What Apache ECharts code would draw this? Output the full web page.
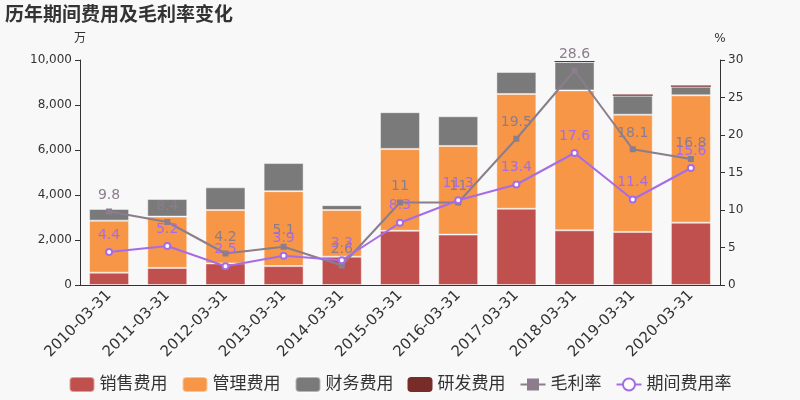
<!DOCTYPE html>
<html><head><meta charset="utf-8">
<script src="https://cdn.jsdelivr.net/npm/echarts@6/dist/echarts.min.js"></script>
<style>html,body{margin:0;padding:0;background:#f8f8f8}#c{width:800px;height:400px}</style>
</head><body><div id="c"></div>
<script>
const categories = ['2010-03-31','2011-03-31','2012-03-31','2013-03-31','2014-03-31','2015-03-31','2016-03-31','2017-03-31','2018-03-31','2019-03-31','2020-03-31'];
const sales = [550, 760, 960, 840, 1260, 2410, 2240, 3390, 2430, 2360, 2770];
const admin = [2310, 2280, 2370, 3330, 2070, 3640, 3940, 5100, 6220, 5210, 5660];
const finance = [520, 780, 1010, 1250, 220, 1630, 1320, 980, 1260, 845, 385];
const rnd = [0, 0, 0, 0, 0, 0, 0, 0, 50, 50, 50];
const grossMargin = [9.8, 8.4, 4.2, 5.1, 2.6, 11, 11, 19.5, 28.6, 18.1, 16.8];
const expenseRate = [4.4, 5.2, 2.5, 3.9, 3.3, 8.3, 11.3, 13.4, 17.6, 11.4, 15.6];

const chart = echarts.init(document.getElementById('c'));
const font = 'DejaVu Sans, Noto Sans CJK SC, sans-serif';
function bar(name, data, color, border) {
  const itemStyle = {color};
  if (border) { itemStyle.borderColor = 'rgba(255,255,255,0.45)'; itemStyle.borderWidth = 1; }
  return {name, type: 'bar', stack: 'cost', data, barWidth: 40, itemStyle};
}
chart.setOption({
  backgroundColor: '#f8f8f8',
  textStyle: {fontFamily: font},
  title: {text: '历年期间费用及毛利率变化', left: 0, top: 2,
    textStyle: {fontSize: 19, fontWeight: 'bold', color: '#333', fontFamily: font}},
  grid: {left: 80, right: 80, top: 60, bottom: 115},
  legend: {bottom: 2, left: 'center', itemWidth: 25, itemHeight: 15, itemGap: 14,
    textStyle: {fontSize: 17, color: '#333'},
    data: [
      {name: '销售费用', icon: 'roundRect'},
      {name: '管理费用', icon: 'roundRect'},
      {name: '财务费用', icon: 'roundRect'},
      {name: '研发费用', icon: 'roundRect'},
      {name: '毛利率'},
      {name: '期间费用率'}
    ]},
  xAxis: {type: 'category', data: categories,
    axisLine: {lineStyle: {color: '#333'}},
    axisTick: {lineStyle: {color: '#333'}},
    axisLabel: {rotate: 45, fontSize: 15, color: '#333', interval: 0, margin: 8}},
  yAxis: [
    {type: 'value', name: '万', min: 0, max: 10000, interval: 2000,
      nameTextStyle: {color: '#333', fontSize: 12, align: 'center'},
      nameGap: 15,
      axisLine: {show: true, lineStyle: {color: '#333'}},
      axisTick: {show: true},
      splitLine: {show: false},
      axisLabel: {fontSize: 12, color: '#333'}},
    {type: 'value', name: '%', min: 0, max: 30, interval: 5,
      nameTextStyle: {color: '#333', fontSize: 12},
      nameGap: 15,
      axisLine: {show: true, lineStyle: {color: '#333'}},
      axisTick: {show: true},
      splitLine: {show: false},
      axisLabel: {fontSize: 12, color: '#333'}}
  ],
  series: [
    bar('销售费用', sales, '#c0504d', true),
    bar('管理费用', admin, '#f79646', true),
    bar('财务费用', finance, '#7a7a7a', true),
    bar('研发费用', rnd, '#772c2a', false),
    {name: '毛利率', type: 'line', yAxisIndex: 1, data: grossMargin,
      symbol: 'rect', symbolSize: 6,
      lineStyle: {color: '#8c7d8c', width: 2},
      itemStyle: {color: '#8c7d8c'},
      label: {show: true, position: 'top', fontSize: 14, color: '#8c7d8c', distance: 6}},
    {name: '期间费用率', type: 'line', yAxisIndex: 1, data: expenseRate,
      symbol: 'emptyCircle', symbolSize: 6,
      lineStyle: {color: '#a66ce8', width: 2},
      itemStyle: {color: '#a66ce8', borderColor: '#a66ce8'},
      label: {show: true, position: 'top', fontSize: 14, color: '#a66ce8', distance: 6}}
  ]
});
</script></body></html>
